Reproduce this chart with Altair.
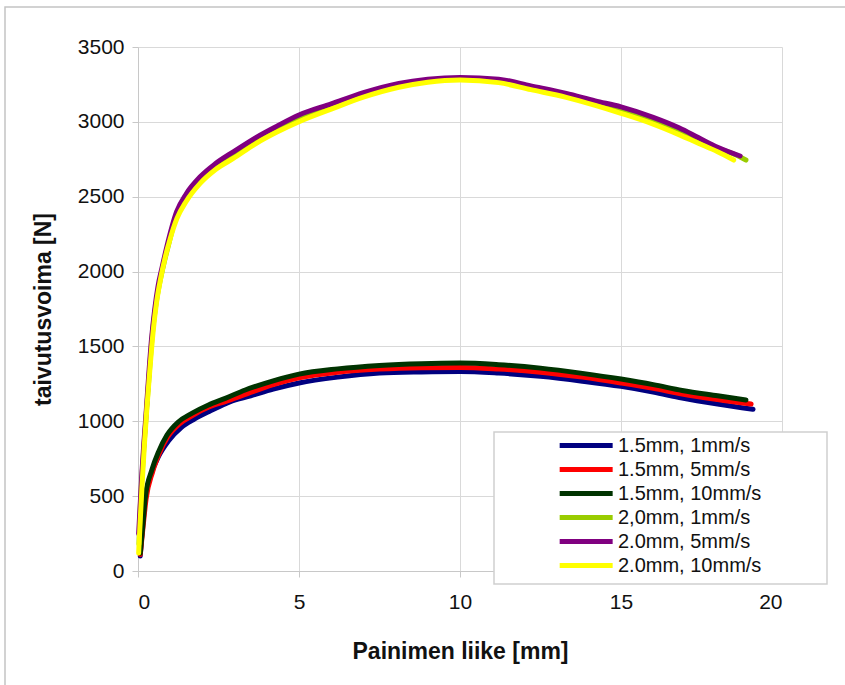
import altair as alt
import pandas as pd

# Bending force vs. punch travel, six test series
SERIES = [
    "1.5mm, 1mm/s",
    "1.5mm, 5mm/s",
    "1.5mm, 10mm/s",
    "2,0mm, 1mm/s",
    "2.0mm, 5mm/s",
    "2.0mm, 10mm/s",
]

x_15_1 = [0.07, 0.13, 0.2, 0.4, 0.65, 0.95, 1.35, 1.75, 2.25, 2.85, 3.5, 4.2, 5.0, 6.2, 7.5, 8.8, 10.0, 11.2, 12.5, 13.8, 15.0, 16.0, 16.9, 18.0, 19.1]
y_15_1 = [100, 280, 450, 640, 770, 870, 960, 1015, 1070, 1130, 1170, 1215, 1256, 1295, 1322, 1330, 1333, 1322, 1300, 1268, 1233, 1195, 1155, 1115, 1080]

x_15_5 = [0.07, 0.15, 0.25, 0.45, 0.66, 0.92, 1.3, 1.7, 2.2, 2.75, 3.4, 4.2, 5.0, 6.2, 7.5, 8.8, 10.0, 11.2, 12.5, 13.8, 15.0, 16.0, 16.9, 18.0, 19.04]
y_15_5 = [110, 280, 480, 660, 785, 895, 985, 1040, 1095, 1135, 1185, 1245, 1290, 1328, 1349, 1358, 1360, 1349, 1328, 1295, 1256, 1220, 1182, 1145, 1115]

x_15_10 = [0.07, 0.15, 0.23, 0.43, 0.64, 0.9, 1.26, 1.67, 2.19, 2.71, 3.33, 4.2, 5.0, 6.2, 7.5, 8.8, 10.0, 11.2, 12.5, 13.8, 15.0, 16.0, 16.9, 18.0, 18.88]
y_15_10 = [118, 300, 496, 675, 797, 908, 997, 1053, 1109, 1153, 1209, 1270, 1315, 1350, 1373, 1385, 1389, 1378, 1355, 1320, 1282, 1245, 1206, 1170, 1142]

x_20_1 = [0.03, 0.07, 0.12, 0.19, 0.26, 0.35, 0.44, 0.55, 0.66, 0.8, 0.95, 1.2, 1.5, 1.93, 2.4, 2.96, 3.7, 4.3, 5.0, 6.0, 7.0, 8.1, 9.0, 10.0, 11.2, 12.2, 13.3, 14.2, 15.0, 16.0, 16.8, 17.4, 18.0, 18.5, 18.88]
y_20_1 = [180, 420, 620, 850, 1060, 1320, 1570, 1770, 1910, 2050, 2180, 2380, 2500, 2615, 2705, 2785, 2885, 2955, 3030, 3105, 3180, 3245, 3278, 3290, 3275, 3230, 3178, 3125, 3080, 3010, 2945, 2885, 2825, 2785, 2745]

x_20_5 = [0.02, 0.07, 0.12, 0.18, 0.25, 0.33, 0.42, 0.52, 0.62, 0.75, 0.9, 1.2, 1.5, 1.93, 2.4, 2.96, 3.7, 4.3, 5.0, 6.0, 7.0, 8.1, 9.0, 10.0, 11.2, 12.2, 13.3, 14.2, 15.0, 16.0, 16.8, 17.4, 18.0, 18.7]
y_20_5 = [250, 450, 650, 850, 1050, 1300, 1550, 1750, 1900, 2030, 2170, 2400, 2520, 2633, 2720, 2800, 2900, 2970, 3046, 3120, 3195, 3257, 3285, 3297, 3285, 3240, 3190, 3140, 3100, 3030, 2960, 2895, 2830, 2772]

x_20_10 = [0.02, 0.06, 0.12, 0.2, 0.28, 0.37, 0.47, 0.58, 0.7, 0.85, 1.0, 1.21, 1.5, 1.93, 2.4, 2.96, 3.7, 4.3, 5.0, 6.0, 7.0, 8.1, 9.0, 10.0, 11.2, 12.2, 13.3, 14.2, 15.0, 16.0, 16.8, 17.4, 18.0, 18.5]
y_20_10 = [120, 300, 550, 850, 1100, 1350, 1600, 1800, 1950, 2100, 2220, 2355, 2470, 2589, 2680, 2756, 2860, 2930, 3001, 3085, 3165, 3231, 3265, 3280, 3262, 3215, 3164, 3110, 3057, 2985, 2915, 2857, 2800, 2745]

X_TICKS = [0, 5, 10, 15, 20]
Y_TICKS = [0, 500, 1000, 1500, 2000, 2500, 3000, 3500]

# styling
COLORS = ["#000080", "#ff0000", "#003300", "#99cc00", "#800080", "#ffff00"]
WIDTHS = [5, 5, 4, 5, 3.5, 4]
FONT = "Liberation Sans"
GRID = "#d9d9d9"

pairs = [
    (x_15_1, y_15_1), (x_15_5, y_15_5), (x_15_10, y_15_10),
    (x_20_1, y_20_1), (x_20_5, y_20_5), (x_20_10, y_20_10),
]
rows = []
for name, (xs, ys) in zip(SERIES, pairs):
    for i, (xv, yv) in enumerate(zip(xs, ys)):
        rows.append({"series": name, "idx": i, "x": xv, "y": yv})
df = pd.DataFrame(rows)

# a wide horizontal stroke as the legend swatch (path spans -1..5 in symbol units)
legend = alt.Legend(
    title=None,
    orient="none",
    legendX=419,
    legendY=387,
    symbolType="M-1,0H5",
    symbolSize=312,
    labelFont=FONT,
    labelFontSize=20,
    labelColor="#111111",
    labelOffset=38,
    rowPadding=2,
    padding=0,
)

lines = alt.Chart(df).mark_line(interpolate="monotone", strokeCap="round", strokeJoin="round").encode(
    x=alt.X("x:Q", scale=alt.Scale(domain=[0, 20], nice=False),
            axis=alt.Axis(values=X_TICKS, title="Painimen liike [mm]", titlePadding=28, labelPadding=14)),
    y=alt.Y("y:Q", scale=alt.Scale(domain=[0, 3500], nice=False),
            axis=alt.Axis(values=Y_TICKS, format="d", title="taivutusvoima [N]", titlePadding=22)),
    color=alt.Color("series:N", sort=SERIES,
                    scale=alt.Scale(domain=SERIES, range=COLORS), legend=legend),
    strokeWidth=alt.StrokeWidth("series:N", sort=SERIES,
                                scale=alt.Scale(domain=SERIES, range=WIDTHS), legend=legend),
    order="idx:Q",
)

one = pd.DataFrame({"k": [0]})

# outer chart border
frame = alt.Chart(one).mark_rect(fillOpacity=0, stroke="#c4c4c4", strokeWidth=1.5).encode(
    x=alt.value(-133), x2=alt.value(715), y=alt.value(-40), y2=alt.value(650)
)

# legend background box
legend_box = alt.Chart(one).mark_rect(fill="white", stroke="#cfcfcf", strokeWidth=1.5).encode(
    x=alt.value(356), x2=alt.value(689), y=alt.value(385), y2=alt.value(537)
)

chart = alt.layer(frame, legend_box, lines).properties(
    width=644,
    height=524,
    autosize=alt.AutoSizeParams(type="none"),
    padding={"left": 138, "top": 47, "right": 63, "bottom": 114},
    background="white",
).configure_view(strokeWidth=0).configure_axis(
    gridColor=GRID,
    gridWidth=1,
    domainColor="#c8c8c8",
    tickColor="#c8c8c8",
    tickSize=6,
    labelFont=FONT,
    labelFontSize=21,
    labelColor="#111111",
    labelPadding=8,
    titleFont=FONT,
    titleFontSize=23,
    titleFontWeight="bold",
    titleColor="#111111",
)

chart.save("out.html", embed_options={"renderer": "svg", "actions": False})
